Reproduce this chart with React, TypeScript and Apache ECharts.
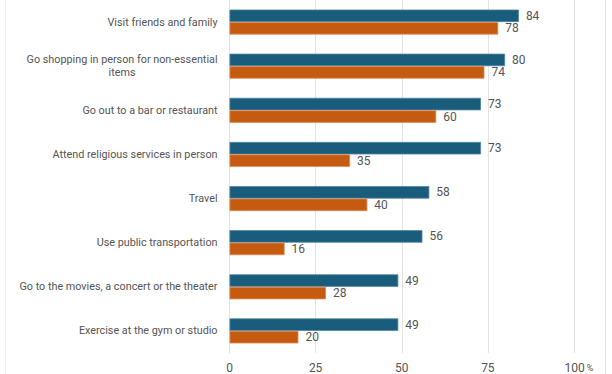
import React, { useEffect, useRef } from "react";
import * as echarts from "echarts";

const categories = [
  "Visit friends and family",
  "Go shopping in person for non-essential\nitems",
  "Go out to a bar or restaurant",
  "Attend religious services in person",
  "Travel",
  "Use public transportation",
  "Go to the movies, a concert or the theater",
  "Exercise at the gym or studio",
];
const seriesA = [84, 80, 73, 73, 58, 56, 49, 49];
const seriesB = [78, 74, 60, 35, 40, 16, 28, 20];
const tickLabels: Record<number, string> = { 0: "0", 25: "25", 50: "50", 75: "75", 100: "{a|100}{b|%}" };

export default function App() {
  const ref = useRef<HTMLDivElement>(null);
  useEffect(() => {
    if (!ref.current) return;
    const chart = echarts.init(ref.current, null, { renderer: "svg" });
    const font = "Roboto, 'Noto Sans', sans-serif";
    const labelStyle = {
      show: true,
      position: "right" as const,
      distance: 7,
      color: "#555",
      fontSize: 12,
      fontFamily: font,
    };
    chart.setOption({
      animation: false,
      grid: { left: 229.5, right: 38, top: -1.4, bottom: 16.6, containLabel: false },
      xAxis: {
        type: "value",
        min: 0,
        max: 100,
        interval: 25,
        axisLine: { show: false },
        axisTick: { show: false },
        splitLine: { show: true, lineStyle: { color: "#e3e3e3", width: 1 } },
        axisLabel: {
          color: "#555",
          fontSize: 12,
          fontFamily: font,
          margin: 9,
          formatter: (v: number) => tickLabels[v] ?? String(v),
          rich: {
            a: { color: "#555", fontSize: 12, fontFamily: font, padding: [0, 0, 0, 10] },
            b: { color: "#555", fontSize: 9, fontFamily: font, padding: [0, 0, 0, 2] },
          },
        },
      },
      yAxis: {
        type: "category",
        data: categories,
        inverse: true,
        axisLine: { show: true, lineStyle: { color: "#e3e3e3" } },
        axisTick: { show: false },
        axisLabel: {
          color: "#555",
          fontSize: 10.8,
          fontFamily: font,
          margin: 12,
          lineHeight: 13,
          align: "right",
          formatter: (v: string) => v.split("\n").map((l) => `{c|${l}}`).join("\n"),
          rich: {
            c: { color: "#555", fontSize: 10.8, fontFamily: font, lineHeight: 13, align: "center" },
          },
        },
      },
      series: [
        {
          type: "bar",
          data: seriesA,
          barWidth: 12.5,
          barGap: "0%",
          itemStyle: { color: "#1a5c7b", borderColor: "#4f86a2", borderWidth: 0.8 },
          label: labelStyle,
        },
        {
          type: "bar",
          data: seriesB,
          barWidth: 12.5,
          itemStyle: { color: "#c55a11", borderColor: "#e08a55", borderWidth: 0.8 },
          label: labelStyle,
        },
      ],
      graphic: [
        { type: "line", shape: { x1: 5.5, y1: 0, x2: 5.5, y2: 374 }, style: { stroke: "#eeeeee", lineWidth: 1 } },
        { type: "line", shape: { x1: 605.5, y1: 0, x2: 605.5, y2: 374 }, style: { stroke: "#e3e3e3", lineWidth: 1 } },
      ],
    });
    return () => chart.dispose();
  }, []);
  return <div ref={ref} style={{ width: 612, height: 374, position: "absolute", left: 0, top: 0 }} />;
}
